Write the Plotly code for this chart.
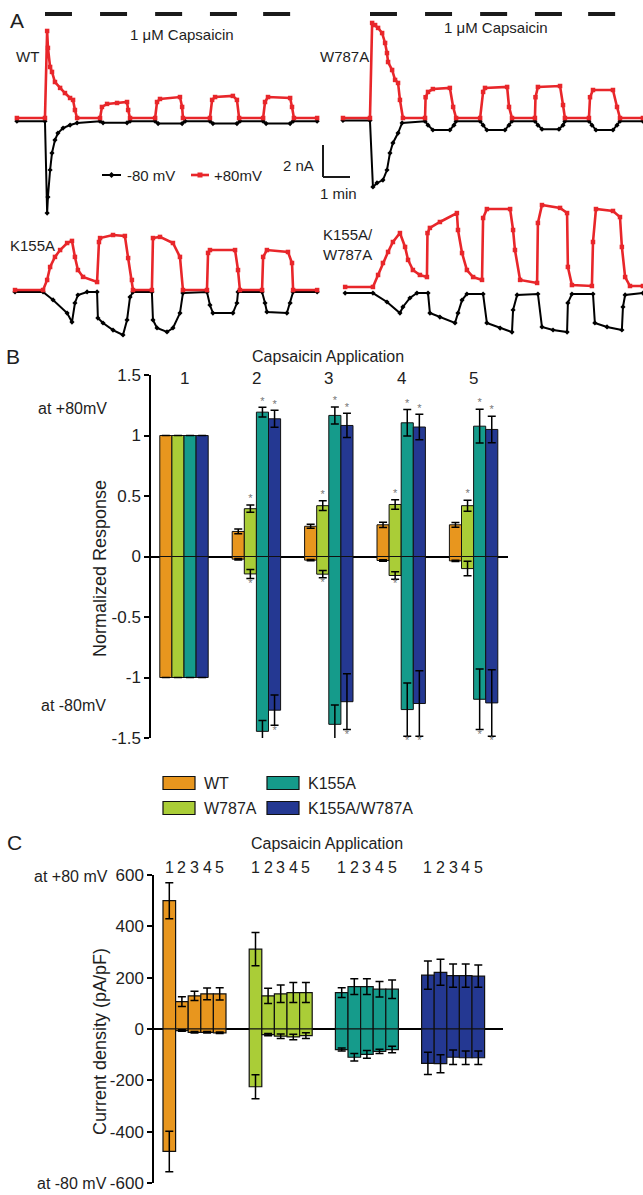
import plotly.graph_objects as go

# ---------------- DATA ----------------
# Panel A: capsaicin application starts (min) and duration
APP_START = [1.11, 3.15, 5.19, 7.22, 9.19]
APP_DUR = 1.0

# WT traces (time in min, current in nA)
WT_RED_T = [0.07, 1.11, 1.19, 1.22, 1.30, 1.37, 1.48, 1.67, 1.85, 2.04, 2.15, 2.22, 2.30, 3.15, 3.22, 3.41, 3.78, 4.15, 4.19, 4.26,
            5.19, 5.26, 5.37, 6.11, 6.19, 6.22, 7.22, 7.30, 7.41, 8.07, 8.22, 8.30, 9.19, 9.26, 9.37, 10.19, 10.26, 10.33, 11.19]
WT_RED_I = [0.0, 0.0, 5.44, 4.38, 3.19, 2.88, 2.25, 1.88, 1.56, 1.25, 1.13, 0.5, 0.0, 0.0, 0.69, 0.88, 0.94, 1.0, 0.5, 0.0,
            0.0, 1.0, 1.19, 1.31, 0.69, 0.0, 0.0, 1.13, 1.31, 1.38, 1.13, 0.0, 0.0, 1.0, 1.31, 1.25, 0.69, 0.0, 0.0]
WT_BLK_T = [0.07, 1.11, 1.19, 1.22, 1.30, 1.37, 1.48, 1.59, 1.78, 2.04, 2.30, 3.15, 3.26, 4.15, 4.26, 5.19, 5.30, 6.19, 6.30,
            7.22, 7.33, 8.22, 8.33, 9.19, 9.30, 10.19, 10.30, 11.19]
WT_BLK_I = [-0.2, -0.2, -5.94, -4.94, -3.25, -2.19, -1.38, -0.94, -0.63, -0.44, -0.31, -0.2, -0.3, -0.3, -0.2, -0.2, -0.35, -0.35, -0.2,
            -0.2, -0.35, -0.35, -0.2, -0.2, -0.35, -0.35, -0.2, -0.2]

# W787A traces
W787A_RED_T = [0.11, 1.11, 1.19, 1.30, 1.41, 1.56, 1.67, 1.74, 1.78, 1.93, 2.04, 2.15, 2.22, 2.33, 3.15, 3.17, 3.26, 3.44, 4.07, 4.19, 4.30,
               5.19, 5.30, 5.37, 6.19, 6.26, 6.37, 7.22, 7.24, 7.33, 8.15, 8.26, 8.33, 9.22, 9.26, 9.37, 10.11, 10.26, 10.37, 11.22]
W787A_RED_I = [0.0, 0.0, 5.94, 5.81, 5.63, 5.31, 4.69, 4.06, 3.5, 3.0, 2.38, 2.19, 1.13, 0.0, 0.0, 1.3, 1.63, 1.81, 1.88, 0.69, 0.0,
               0.0, 1.63, 1.88, 1.94, 0.69, 0.0, 0.0, 1.3, 1.94, 2.0, 0.81, 0.0, 0.0, 1.3, 1.75, 1.75, 0.69, 0.0, 0.0]
W787A_BLK_T = [0.11, 1.11, 1.22, 1.37, 1.59, 1.74, 1.85, 1.96, 2.15, 2.30, 3.15, 3.26, 3.44, 4.07, 4.22, 4.30, 5.19, 5.30, 5.44, 6.11,
               6.26, 6.37, 7.22, 7.33, 7.48, 8.11, 8.26, 8.33, 9.22, 9.33, 9.48, 10.11, 10.26, 10.37, 11.22]
W787A_BLK_I = [-0.15, -0.15, -4.31, -4.06, -3.88, -3.25, -2.19, -1.56, -0.94, -0.31, -0.2, -0.45, -0.75, -0.75, -0.45, -0.2, -0.2, -0.45,
               -0.75, -0.75, -0.45, -0.2, -0.2, -0.45, -0.7, -0.7, -0.45, -0.2, -0.2, -0.45, -0.75, -0.75, -0.45, -0.2, -0.2]

# K155A traces
K155A_RED_T = [0.0, 1.04, 1.19, 1.30, 1.48, 1.67, 1.93, 2.11, 2.22, 2.33, 2.52, 3.04, 3.11, 3.15, 3.63, 4.07, 4.19, 4.33, 4.37,
               5.07, 5.11, 5.37, 5.85, 6.11, 6.22, 7.11, 7.15, 7.22, 8.15, 8.26, 8.33, 9.15, 9.19, 9.33, 10.11, 10.26, 10.30, 11.19]
K155A_RED_I = [0.06, 0.06, 0.69, 1.5, 2.13, 2.56, 3.0, 3.13, 2.13, 1.31, 0.88, 0.56, 3.06, 3.31, 3.5, 3.44, 2.06, 0.69, 0.06,
               0.06, 3.31, 3.38, 3.0, 2.13, 0.06, 0.06, 2.38, 2.56, 2.56, 1.31, 0.06, 0.06, 2.13, 2.56, 2.44, 1.75, 0.06, 0.06]
K155A_BLK_T = [0.0, 1.04, 1.41, 1.93, 2.11, 2.22, 2.33, 2.67, 3.04, 3.07, 3.26, 3.63, 4.0, 4.15, 4.26, 4.37, 5.07, 5.11, 5.26, 5.63,
               5.85, 6.11, 6.22, 7.11, 7.22, 7.33, 8.07, 8.22, 8.26, 9.15, 9.26, 9.33, 10.07, 10.19, 10.30, 11.19]
K155A_BLK_I = [-0.06, -0.06, -0.56, -1.38, -1.94, -0.75, -0.25, -0.06, -0.06, -1.69, -2.0, -2.44, -2.75, -1.81, -0.38, -0.06, -0.06,
               -1.81, -2.31, -2.56, -2.31, -1.38, -0.13, -0.06, -0.88, -1.38, -1.38, -0.75, -0.06, -0.06, -0.75, -1.31, -1.38, -0.75,
               -0.06, -0.06]

# K155A/W787A traces
KW_RED_T = [0.19, 1.22, 1.41, 1.59, 1.78, 1.96, 2.22, 2.41, 2.52, 2.70, 2.96, 3.22, 3.24, 3.33, 3.70, 4.33, 4.37, 4.52, 4.70, 4.93,
            5.26, 5.30, 5.44, 6.30, 6.41, 6.48, 6.67, 7.30, 7.33, 7.48, 8.15, 8.41, 8.44, 8.59, 9.33, 9.37, 9.48, 10.11, 10.37,
            10.44, 10.56, 10.74, 11.22]
KW_RED_I = [0.19, 0.19, 0.94, 1.69, 2.38, 3.0, 3.56, 2.69, 1.88, 1.25, 0.94, 0.81, 3.56, 3.88, 4.25, 4.81, 3.75, 2.31, 1.25, 0.81,
            0.63, 4.5, 5.06, 5.06, 3.75, 2.5, 0.63, 0.44, 4.19, 5.31, 5.13, 4.81, 1.44, 0.31, 0.25, 3.0, 5.06, 4.94, 4.56,
            2.69, 0.81, 0.25, 0.25]
KW_BLK_T = [0.19, 1.22, 1.74, 2.22, 2.33, 2.59, 2.85, 3.26, 3.33, 3.70, 4.26, 4.37, 4.52, 4.70, 5.30, 5.44, 5.93, 6.37, 6.41, 6.56,
            7.33, 7.48, 7.89, 8.41, 8.44, 8.59, 9.37, 9.44, 9.89, 10.44, 10.48, 10.56, 11.22]
KW_BLK_I = [-0.19, -0.19, -0.75, -1.44, -1.06, -0.5, -0.19, -0.19, -1.44, -1.69, -2.06, -1.44, -0.63, -0.25, -0.25, -2.06, -2.38,
            -2.63, -1.25, -0.31, -0.25, -2.31, -2.5, -2.63, -0.81, -0.25, -0.25, -2.06, -2.31, -2.5, -1.06, -0.31, -0.19]

# Panel B / C categories
GENOTYPES = ["WT", "W787A", "K155A", "K155A/W787A"]
COLORS = ["#E8961E", "#AACD37", "#159B8B", "#243892"]
APPS = ["1", "2", "3", "4", "5"]

# Panel B: normalized response (+80 mV positive, -80 mV negative), mean and SEM
B_WT_POS = [1.0, 0.207, 0.25, 0.262, 0.262]
B_W787A_POS = [1.0, 0.395, 0.42, 0.43, 0.42]
B_K155A_POS = [1.0, 1.193, 1.166, 1.105, 1.077]
B_KW_POS = [1.0, 1.138, 1.083, 1.07, 1.05]
B_WT_POS_ERR = [None, 0.02, 0.017, 0.022, 0.02]
B_W787A_POS_ERR = [None, 0.03, 0.04, 0.04, 0.045]
B_K155A_POS_ERR = [None, 0.04, 0.07, 0.11, 0.14]
B_KW_POS_ERR = [None, 0.07, 0.10, 0.105, 0.11]
B_WT_NEG = [-1.0, -0.022, -0.03, -0.033, -0.036]
B_W787A_NEG = [-1.0, -0.144, -0.146, -0.157, -0.10]
B_K155A_NEG = [-1.0, -1.445, -1.387, -1.265, -1.18]
B_KW_NEG = [-1.0, -1.27, -1.20, -1.215, -1.21]
B_WT_NEG_ERR = [None, 0.006, 0.006, 0.006, 0.006]
B_W787A_NEG_ERR = [None, 0.037, 0.03, 0.03, 0.06]
B_K155A_NEG_ERR = [None, 0.09, 0.16, 0.22, 0.25]
B_KW_NEG_ERR = [None, 0.125, 0.23, 0.27, 0.275]
# significance asterisks
B_SIG_POS = [[0, 0, 0, 0, 0], [0, 1, 1, 1, 1], [0, 1, 1, 1, 1], [0, 1, 1, 1, 1]]
B_SIG_NEG = [[0, 0, 0, 0, 0], [0, 1, 1, 1, 0], [0, 1, 1, 1, 1], [0, 1, 1, 1, 1]]

# Panel C: current density (pA/pF)
C_WT_POS = [500, 107, 129, 137, 137]
C_W787A_POS = [311, 129, 137, 142, 142]
C_K155A_POS = [142, 165, 165, 155, 155]
C_KW_POS = [210, 221, 208, 208, 206]
C_WT_POS_ERR = [70, 19, 18, 23, 24]
C_W787A_POS_ERR = [65, 30, 34, 39, 39]
C_K155A_POS_ERR = [19, 31, 31, 30, 36]
C_KW_POS_ERR = [55, 51, 45, 45, 43]
C_WT_NEG = [-477, -6, -13, -13, -15]
C_W787A_NEG = [-225, -22, -28, -31, -26]
C_K155A_NEG = [-80, -110, -99, -87, -80]
C_KW_NEG = [-134, -135, -110, -112, -112]
C_WT_NEG_ERR = [79, 3, 3, 3, 3]
C_W787A_NEG_ERR = [47, 4, 9, 11, 11]
C_K155A_NEG_ERR = [6, 15, 15, 8, 13]
C_KW_NEG_ERR = [43, 35, 28, 26, 26]

B_TICKS = [-1.5, -1, -0.5, 0, 0.5, 1, 1.5]
C_TICKS = [-600, -400, -200, 0, 200, 400, 600]

# ---------------- LAYOUT HELPERS ----------------
W, H = 643, 1195
FONT = "Arial, 'Liberation Sans', sans-serif"
TXT = "#1e1e1e"
RED = "#E8262A"
PX_PER_MIN = 27.0
PX_PER_NA = 16.0


def fx(p):
    return p / W


def fy(p):
    return 1 - p / H


fig = go.Figure()
layout = dict(width=W, height=H, margin=dict(l=0, r=0, t=0, b=0, pad=0, autoexpand=False),
              paper_bgcolor="white", plot_bgcolor="rgba(0,0,0,0)",
              showlegend=False, barmode="overlay", template="none",
              font=dict(family=FONT, color=TXT))

# Panel A axes: (suffix, x-domain px, y-domain px, baseline px)
A_AXES = [("", (15, 355), (20, 225), 118),
          ("2", (340, 643), (20, 225), 118),
          ("3", (15, 320), (195, 345), 291),
          ("4", (340, 643), (195, 345), 290)]
for suf, xd, yd, base in A_AXES:
    layout["xaxis" + suf] = dict(domain=[fx(xd[0]), fx(xd[1])], range=[0, (xd[1] - xd[0]) / PX_PER_MIN],
                                 visible=False, anchor="y" + suf, automargin=False)
    layout["yaxis" + suf] = dict(domain=[fy(yd[1]), fy(yd[0])],
                                 range=[-(yd[1] - base) / PX_PER_NA, (base - yd[0]) / PX_PER_NA],
                                 visible=False, anchor="x" + suf, automargin=False)

A_TRACES = [("x", "y", WT_BLK_T, WT_BLK_I, WT_RED_T, WT_RED_I),
            ("x2", "y2", W787A_BLK_T, W787A_BLK_I, W787A_RED_T, W787A_RED_I),
            ("x3", "y3", K155A_BLK_T, K155A_BLK_I, K155A_RED_T, K155A_RED_I),
            ("x4", "y4", KW_BLK_T, KW_BLK_I, KW_RED_T, KW_RED_I)]
for xa, ya, bt, bi, rt, ri in A_TRACES:
    fig.add_trace(go.Scatter(x=bt, y=bi, mode="lines+markers", xaxis=xa, yaxis=ya, cliponaxis=False,
                             line=dict(color="black", width=2),
                             marker=dict(symbol="diamond", size=4, color="black")))
    fig.add_trace(go.Scatter(x=rt, y=ri, mode="lines+markers", xaxis=xa, yaxis=ya, cliponaxis=False,
                             line=dict(color=RED, width=2.6),
                             marker=dict(symbol="square", size=4.5, color=RED)))

shapes = []
annotations = []


def ann(text, x, y, size, xanchor="center", yanchor="middle", angle=0, color=TXT, align="center"):
    annotations.append(dict(text=text, x=fx(x), y=fy(y), xref="paper", yref="paper", showarrow=False,
                            xanchor=xanchor, yanchor=yanchor, textangle=angle, align=align,
                            font=dict(size=size, color=color, family=FONT)))


# capsaicin application bars
for xr in ["x", "x2"]:
    for s in APP_START:
        shapes.append(dict(type="line", xref=xr, yref="paper", x0=s, x1=s + APP_DUR, y0=fy(14), y1=fy(14),
                           line=dict(color="#1a1a1a", width=4)))

# scale bar (2 nA, 1 min) in WT axes
SB_T0 = (323 - 15) / PX_PER_MIN
SB_I0 = -(145 - 118) / PX_PER_NA
shapes.append(dict(type="line", xref="x", yref="y", x0=SB_T0, x1=SB_T0, y0=SB_I0, y1=SB_I0 - 2,
                   line=dict(color="#1a1a1a", width=2)))
shapes.append(dict(type="line", xref="x", yref="y", x0=SB_T0, x1=SB_T0 + 1, y0=SB_I0 - 2, y1=SB_I0 - 2,
                   line=dict(color="#1a1a1a", width=2)))

# Panel A legend
shapes.append(dict(type="line", xref="paper", yref="paper", x0=fx(102), x1=fx(121), y0=fy(175), y1=fy(175),
                   line=dict(color="black", width=2)))
shapes.append(dict(type="path", xref="paper", yref="paper",
                   path=f"M {fx(111.5)},{fy(172)} L {fx(114.5)},{fy(175)} L {fx(111.5)},{fy(178)} L {fx(108.5)},{fy(175)} Z",
                   fillcolor="black", line=dict(width=0)))
shapes.append(dict(type="line", xref="paper", yref="paper", x0=fx(191), x1=fx(209), y0=fy(175), y1=fy(175),
                   line=dict(color=RED, width=2.6)))
shapes.append(dict(type="rect", xref="paper", yref="paper", x0=fx(197.5), x1=fx(202.5), y0=fy(177.5), y1=fy(172.5),
                   fillcolor=RED, line=dict(width=0)))

ann("A", 17, 20, 21)
ann("1 \u03bcM Capsaicin", 182, 34, 15)
ann("1 \u03bcM Capsaicin", 496, 27, 15)
ann("WT", 14, 57, 15, xanchor="left")
ann("W787A", 318, 57, 15, xanchor="left")
ann("K155A", 8, 245, 15, xanchor="left")
ann("K155A/<br>W787A", 321, 244, 15, xanchor="left", align="left")
ann("-80 mV", 125, 175, 15, xanchor="left")
ann("+80mV", 212, 175, 15, xanchor="left")
ann("2 nA", 316, 166, 15, xanchor="right")
ann("1 min", 338, 193, 15)

# ---------------- Panel B ----------------
B_XD = (151, 508)
B_C0, B_SP = 184.0, 72.4
layout["xaxis5"] = dict(domain=[fx(B_XD[0]), fx(B_XD[1])],
                        range=[(B_XD[0] - B_C0) / B_SP, (B_XD[1] - B_C0) / B_SP],
                        visible=False, anchor="y5", automargin=False)
layout["yaxis5"] = dict(domain=[fy(738), fy(375)], range=[-1.5, 1.5], anchor="x5", automargin=False,
                        tickvals=B_TICKS, ticktext=[f"{v:g}" for v in B_TICKS],
                        showline=True, linecolor="black", linewidth=1.5, ticks="outside", ticklen=5,
                        tickwidth=1.5, tickcolor="black", showgrid=False,
                        zeroline=True, zerolinecolor="black", zerolinewidth=1.5,
                        tickfont=dict(size=17, color=TXT, family=FONT))

B_POS = [B_WT_POS, B_W787A_POS, B_K155A_POS, B_KW_POS]
B_POS_ERR = [B_WT_POS_ERR, B_W787A_POS_ERR, B_K155A_POS_ERR, B_KW_POS_ERR]
B_NEG = [B_WT_NEG, B_W787A_NEG, B_K155A_NEG, B_KW_NEG]
B_NEG_ERR = [B_WT_NEG_ERR, B_W787A_NEG_ERR, B_K155A_NEG_ERR, B_KW_NEG_ERR]
BW = 12.1 / B_SP
for i, g in enumerate(GENOTYPES):
    off = (-1.5 + i) * BW
    xs = [a + off for a in range(len(APPS))]
    for vals, errs in [(B_POS[i], B_POS_ERR[i]), (B_NEG[i], B_NEG_ERR[i])]:
        fig.add_trace(go.Bar(x=xs, y=vals, width=BW, xaxis="x5", yaxis="y5", name=g,
                             marker=dict(color=COLORS[i], line=dict(color="#111", width=1)),
                             error_y=dict(type="data", array=errs, color="black", thickness=1.5, width=4)))
for i, g in enumerate(GENOTYPES):
    off = (-1.5 + i) * BW
    xp, yp, xn, yn = [], [], [], []
    for a in range(len(APPS)):
        if B_SIG_POS[i][a]:
            xp.append(a + off)
            yp.append(B_POS[i][a] + (B_POS_ERR[i][a] or 0))
        if B_SIG_NEG[i][a]:
            xn.append(a + off)
            yn.append(B_NEG[i][a] - (B_NEG_ERR[i][a] or 0))
    fig.add_trace(go.Scatter(x=xp, y=yp, mode="text", text=["*"] * len(xp), textposition="top center",
                             textfont=dict(size=11, color="#777"), xaxis="x5", yaxis="y5", cliponaxis=False))
    fig.add_trace(go.Scatter(x=xn, y=yn, mode="text", text=["*"] * len(xn), textposition="bottom center",
                             textfont=dict(size=11, color="#777"), xaxis="x5", yaxis="y5", cliponaxis=False))

ann("B", 13, 356, 21)
ann("Capsaicin Application", 328, 356, 16)
for a, lab in enumerate(APPS):
    annotations.append(dict(text=lab, x=a, y=fy(378), xref="x5", yref="paper", showarrow=False,
                            xanchor="center", yanchor="middle",
                            font=dict(size=17, color=TXT, family=FONT)))
ann("at +80mV", 36, 408, 16, xanchor="left")
ann("at -80mV", 39, 705, 16, xanchor="left")
ann("Normalized Response", 100, 569, 18, angle=-90)

# Legend (between B and C)
LEG_POS = [(163, 783), (163, 808), (267, 783), (267, 808)]
for i, g in enumerate(GENOTYPES):
    lx, ly = LEG_POS[i]
    shapes.append(dict(type="rect", xref="paper", yref="paper", x0=fx(lx), x1=fx(lx + 32),
                       y0=fy(ly + 6.5), y1=fy(ly - 6.5), fillcolor=COLORS[i], line=dict(color="#111", width=1.2)))
    ann(g, lx + 39, ly, 16, xanchor="left")

# ---------------- Panel C ----------------
C_XD = (154, 503)
C_C0, C_SP = 194.5, 86.2
layout["xaxis6"] = dict(domain=[fx(C_XD[0]), fx(C_XD[1])],
                        range=[(C_XD[0] - C_C0) / C_SP, (C_XD[1] - C_C0) / C_SP],
                        visible=False, anchor="y6", automargin=False)
layout["yaxis6"] = dict(domain=[fy(1183), fy(875)], range=[-600, 600], anchor="x6", automargin=False,
                        tickvals=C_TICKS, ticktext=[str(v) for v in C_TICKS],
                        showline=True, linecolor="black", linewidth=1.5, ticks="outside", ticklen=5,
                        tickwidth=1.5, tickcolor="black", showgrid=False,
                        zeroline=True, zerolinecolor="black", zerolinewidth=1.5,
                        tickfont=dict(size=17, color=TXT, family=FONT))

C_POS = [C_WT_POS, C_W787A_POS, C_K155A_POS, C_KW_POS]
C_POS_ERR = [C_WT_POS_ERR, C_W787A_POS_ERR, C_K155A_POS_ERR, C_KW_POS_ERR]
C_NEG = [C_WT_NEG, C_W787A_NEG, C_K155A_NEG, C_KW_NEG]
C_NEG_ERR = [C_WT_NEG_ERR, C_W787A_NEG_ERR, C_K155A_NEG_ERR, C_KW_NEG_ERR]
CW = 12.6 / C_SP
for i, g in enumerate(GENOTYPES):
    xs = [i + (-2 + a) * CW for a in range(len(APPS))]
    for vals, errs in [(C_POS[i], C_POS_ERR[i]), (C_NEG[i], C_NEG_ERR[i])]:
        fig.add_trace(go.Bar(x=xs, y=vals, width=CW, xaxis="x6", yaxis="y6", name=g,
                             marker=dict(color=COLORS[i], line=dict(color="#111", width=1.2)),
                             error_y=dict(type="data", array=errs, color="black", thickness=1.5, width=4)))
    for a, lab in enumerate(APPS):
        annotations.append(dict(text=lab, x=xs[a], y=fy(867), xref="x6", yref="paper", showarrow=False,
                                xanchor="center", yanchor="middle",
                                font=dict(size=16, color=TXT, family=FONT)))

ann("C", 14, 842, 21)
ann("Capsaicin Application", 327, 843, 16)
ann("at +80 mV", 32, 876, 16, xanchor="left")
ann("at -80 mV", 35, 1183, 16, xanchor="left")
ann("Current density (pA/pF)", 100, 1042, 18, angle=-90)

layout["shapes"] = shapes
layout["annotations"] = annotations
fig.update_layout(**layout)
fig.write_html("out.html", config={"displayModeBar": False},
               post_script="document.body.style.margin='0';document.body.style.overflow='hidden';")
